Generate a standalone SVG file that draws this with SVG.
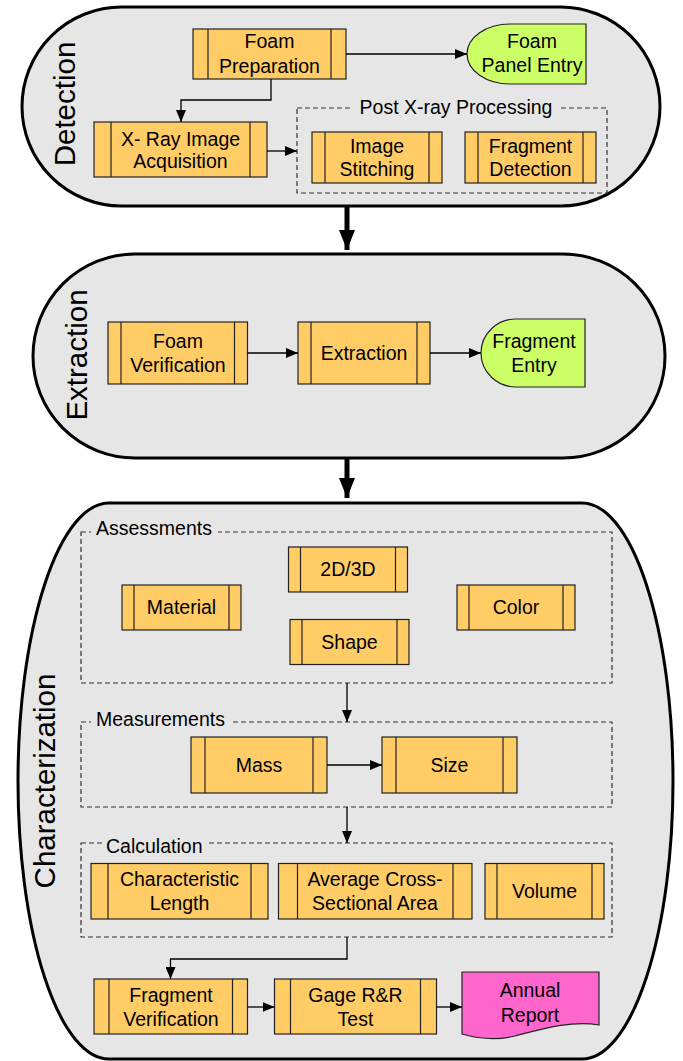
<svg xmlns="http://www.w3.org/2000/svg" width="683" height="1061" viewBox="0 0 683 1061">
<style>
.cont{fill:#e6e6e6;stroke:#000;stroke-width:3}
.proc{fill:#ffcc66;stroke:#222;stroke-width:1.2}
.bar{stroke:#222;stroke-width:1.2}
.term{fill:#ccff66;stroke:#222;stroke-width:1.2}
.doc{fill:#ff66cc;stroke:#222;stroke-width:1.2}
.dash{fill:none;stroke:#333;stroke-width:1.2;stroke-dasharray:5,3}
.t{font-family:"Liberation Sans",Arial,sans-serif;font-size:19.5px;text-anchor:middle;fill:#000}
.lab{font-family:"Liberation Sans",Arial,sans-serif;font-size:19.5px;fill:#000}
.big{font-family:"Liberation Sans",Arial,sans-serif;font-size:29.5px;text-anchor:middle;fill:#000}
.bg{fill:#e6e6e6}
.c{fill:none;stroke:#000;stroke-width:1.3}
.ct{fill:none;stroke:#000;stroke-width:5}
</style>
<defs>
<marker id="ah" markerUnits="userSpaceOnUse" markerWidth="12" markerHeight="10" refX="12" refY="5" orient="auto"><path d="M0,0 L12,5 L0,10 z" fill="#000"/></marker>
<marker id="ahb" markerUnits="userSpaceOnUse" markerWidth="20" markerHeight="16" refX="20" refY="8" orient="auto"><path d="M0,0 L20,8 L0,16 z" fill="#000"/></marker>
</defs>

<g id="detection">
<rect class="cont" x="22" y="7" width="638" height="199" rx="99.5" ry="99.5"/>
<text class="big" transform="translate(75,104) rotate(-90)">Detection</text>
</g>
<g id="extraction-stage">
<rect class="cont" x="33" y="254" width="632" height="204" rx="102" ry="102"/>
<text class="big" transform="translate(87,355) rotate(-90)">Extraction</text>
</g>
<g id="characterization">
<rect class="cont" x="18" y="503" width="655" height="556" rx="91" ry="278"/>
<text class="big" transform="translate(55,781) rotate(-90)">Characterization</text>
</g>

<g id="post-xray">
<rect class="dash" x="297" y="108" width="310" height="85"/>
<rect class="bg" x="353" y="98" width="206" height="20"/>
<text class="t" x="456" y="114">Post X-ray Processing</text>
</g>
<g id="assessments">
<rect class="dash" x="81" y="532" width="531" height="151"/>
<rect class="bg" x="91" y="520" width="127" height="20"/>
<text class="lab" x="96" y="535">Assessments</text>
</g>
<g id="measurements">
<rect class="dash" x="81" y="722" width="531" height="85"/>
<rect class="bg" x="91" y="710" width="139" height="20"/>
<text class="lab" x="96" y="726">Measurements</text>
</g>
<g id="calculation">
<rect class="dash" x="81" y="843" width="531" height="94"/>
<rect class="bg" x="102" y="834" width="104" height="20"/>
<text class="lab" x="106" y="853">Calculation</text>
</g>

<g id="foam-preparation">
<rect class="proc" x="193" y="29" width="153" height="50"/>
<line class="bar" x1="208" y1="29" x2="208" y2="79"/><line class="bar" x1="331" y1="29" x2="331" y2="79"/>
<text class="t" x="269.5" y="48">Foam</text><text class="t" x="269.5" y="73">Preparation</text>
</g>
<g id="foam-panel-entry">
<path class="term" d="M586,24 V84 H510 A43,30 0 0 1 510,24 Z"/>
<text class="t" x="532" y="48">Foam</text><text class="t" x="532" y="72">Panel Entry</text>
</g>
<g id="xray-acquisition">
<rect class="proc" x="94" y="122" width="173" height="55"/>
<line class="bar" x1="111" y1="122" x2="111" y2="177"/><line class="bar" x1="250" y1="122" x2="250" y2="177"/>
<text class="t" x="180.5" y="146">X- Ray Image</text><text class="t" x="180.5" y="168">Acquisition</text>
</g>
<g id="image-stitching">
<rect class="proc" x="312" y="132" width="130" height="51"/>
<line class="bar" x1="325" y1="132" x2="325" y2="183"/><line class="bar" x1="429" y1="132" x2="429" y2="183"/>
<text class="t" x="377" y="153">Image</text><text class="t" x="377" y="176">Stitching</text>
</g>
<g id="fragment-detection">
<rect class="proc" x="465" y="132" width="131" height="51"/>
<line class="bar" x1="478" y1="132" x2="478" y2="183"/><line class="bar" x1="583" y1="132" x2="583" y2="183"/>
<text class="t" x="530.5" y="153">Fragment</text><text class="t" x="530.5" y="176">Detection</text>
</g>

<g id="foam-verification">
<rect class="proc" x="108" y="322" width="139.5" height="62"/>
<line class="bar" x1="121" y1="322" x2="121" y2="384"/><line class="bar" x1="234.5" y1="322" x2="234.5" y2="384"/>
<text class="t" x="178" y="348">Foam</text><text class="t" x="178" y="372">Verification</text>
</g>
<g id="extraction">
<rect class="proc" x="298" y="322" width="132" height="62"/>
<line class="bar" x1="311" y1="322" x2="311" y2="384"/><line class="bar" x1="417" y1="322" x2="417" y2="384"/>
<text class="t" x="364" y="360">Extraction</text>
</g>
<g id="fragment-entry">
<path class="term" d="M585,319 V387 H516 A35,34 0 0 1 516,319 Z"/>
<text class="t" x="534" y="348">Fragment</text><text class="t" x="534" y="372">Entry</text>
</g>

<g id="material">
<rect class="proc" x="122" y="585" width="119" height="45"/>
<line class="bar" x1="134" y1="585" x2="134" y2="630"/><line class="bar" x1="229" y1="585" x2="229" y2="630"/>
<text class="t" x="181.5" y="614">Material</text>
</g>
<g id="dim-2d3d">
<rect class="proc" x="288.5" y="547" width="119" height="45"/>
<line class="bar" x1="300.5" y1="547" x2="300.5" y2="592"/><line class="bar" x1="395.5" y1="547" x2="395.5" y2="592"/>
<text class="t" x="348" y="576">2D/3D</text>
</g>
<g id="shape">
<rect class="proc" x="290" y="619.5" width="119" height="45"/>
<line class="bar" x1="302" y1="619.5" x2="302" y2="664.5"/><line class="bar" x1="397" y1="619.5" x2="397" y2="664.5"/>
<text class="t" x="349.5" y="649">Shape</text>
</g>
<g id="color">
<rect class="proc" x="457" y="585" width="118" height="45"/>
<line class="bar" x1="469" y1="585" x2="469" y2="630"/><line class="bar" x1="563" y1="585" x2="563" y2="630"/>
<text class="t" x="516" y="614">Color</text>
</g>

<g id="mass">
<rect class="proc" x="191" y="737" width="136" height="56"/>
<line class="bar" x1="205" y1="737" x2="205" y2="793"/><line class="bar" x1="313" y1="737" x2="313" y2="793"/>
<text class="t" x="259" y="772">Mass</text>
</g>
<g id="size">
<rect class="proc" x="382" y="737" width="135" height="56"/>
<line class="bar" x1="396" y1="737" x2="396" y2="793"/><line class="bar" x1="503" y1="737" x2="503" y2="793"/>
<text class="t" x="449.5" y="772">Size</text>
</g>

<g id="characteristic-length">
<rect class="proc" x="91" y="863.5" width="177" height="55.5"/>
<line class="bar" x1="108" y1="863.5" x2="108" y2="919"/><line class="bar" x1="251" y1="863.5" x2="251" y2="919"/>
<text class="t" x="179.5" y="886">Characteristic</text><text class="t" x="179.5" y="910">Length</text>
</g>
<g id="average-area">
<rect class="proc" x="278.5" y="863.5" width="193.5" height="55.5"/>
<line class="bar" x1="297.5" y1="863.5" x2="297.5" y2="919"/><line class="bar" x1="453" y1="863.5" x2="453" y2="919"/>
<text class="t" x="375" y="886">Average Cross-</text><text class="t" x="375" y="910">Sectional Area</text>
</g>
<g id="volume">
<rect class="proc" x="485" y="863.5" width="119" height="55.5"/>
<line class="bar" x1="497" y1="863.5" x2="497" y2="919"/><line class="bar" x1="592" y1="863.5" x2="592" y2="919"/>
<text class="t" x="544.5" y="898">Volume</text>
</g>

<g id="fragment-verification">
<rect class="proc" x="94" y="979" width="153.5" height="55"/>
<line class="bar" x1="109" y1="979" x2="109" y2="1034"/><line class="bar" x1="232.5" y1="979" x2="232.5" y2="1034"/>
<text class="t" x="171" y="1001.5">Fragment</text><text class="t" x="171" y="1025.5">Verification</text>
</g>
<g id="gage-rr">
<rect class="proc" x="274.5" y="979" width="162" height="55"/>
<line class="bar" x1="290.5" y1="979" x2="290.5" y2="1034"/><line class="bar" x1="420.5" y1="979" x2="420.5" y2="1034"/>
<text class="t" x="355.5" y="1001.5">Gage R&amp;R</text><text class="t" x="355.5" y="1025.5">Test</text>
</g>
<g id="annual-report">
<path class="doc" d="M462,972 H599 V1025 C572,1020 542,1029 515,1036 C495,1041 476,1038 462,1034 Z"/>
<text class="t" x="530" y="997">Annual</text><text class="t" x="530" y="1022">Report</text>
</g>

<g id="connectors">
<path class="c" d="M346,54 H467" marker-end="url(#ah)"/>
<path class="c" d="M271,79 V100 H181 V122" marker-end="url(#ah)"/>
<path class="c" d="M267,151 H297" marker-end="url(#ah)"/>
<path class="ct" d="M347,206 V250" marker-end="url(#ahb)"/>
<path class="c" d="M247.5,353 H298" marker-end="url(#ah)"/>
<path class="c" d="M430,353 H481" marker-end="url(#ah)"/>
<path class="ct" d="M347,458 V498" marker-end="url(#ahb)"/>
<path class="c" d="M347,683 V722" marker-end="url(#ah)"/>
<path class="c" d="M327,765 H382" marker-end="url(#ah)"/>
<path class="c" d="M347,807 V843" marker-end="url(#ah)"/>
<path class="c" d="M347,937 V959 H170.5 V979" marker-end="url(#ah)"/>
<path class="c" d="M247.5,1007 H274.5" marker-end="url(#ah)"/>
<path class="c" d="M436.5,1007 H462" marker-end="url(#ah)"/>
</g>
</svg>
